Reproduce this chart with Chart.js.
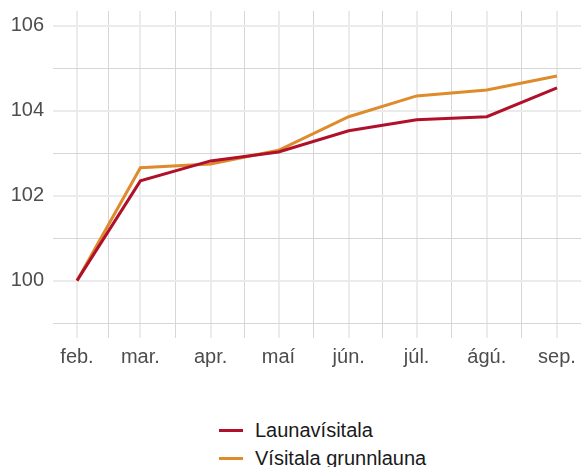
<!DOCTYPE html>
<html lang="is">
<head>
<meta charset="utf-8">
<script src="https://cdn.jsdelivr.net/npm/chart.js@4/dist/chart.umd.min.js"></script>
<style>
  html, body { margin:0; padding:0; background:#fff; }
  #wrap { position:relative; width:581px; height:467px; overflow:hidden; }
  #chart { position:absolute; left:0; top:0; }
  #legend { position:absolute; left:219px; top:416px; font-family:"Liberation Sans", Arial, sans-serif; font-size:20px; color:#1a1a1a; }
  #legend .item { display:flex; align-items:center; height:28px; }
  #legend .swatch { width:24px; height:3px; margin-right:12px; }
</style>
</head>
<body>
<div id="wrap">
  <canvas id="chart" width="581" height="380"></canvas>
  <div id="legend"></div>
</div>
<script>
// Vísitölur, feb. = 100
const MONTHS = ['feb.', 'mar.', 'apr.', 'maí', 'jún.', 'júl.', 'ágú.', 'sep.'];
const MONTH_DAYS = [31, 59, 90, 120, 151, 181, 212, 243]; // dagur ársins, 1. hvers mánaðar
const LAUNAVISITALA = [100, 102.35, 102.82, 103.03, 103.53, 103.79, 103.86, 104.54];
const GRUNNLAUN = [100, 102.66, 102.75, 103.07, 103.86, 104.35, 104.49, 104.82];
const Y_TICKS = [99, 100, 101, 102, 103, 104, 105, 106];

const RED = '#b0102a';
const ORANGE = '#de8b2c';
const FONT = '"Liberation Sans", Arial, sans-serif';

const toPoints = vals => vals.map((v, i) => ({x: MONTH_DAYS[i], y: v}));

// x-ás: mánaðamót + miðpunktar á milli (minni gridlínur)
const xTicks = [];
MONTH_DAYS.forEach((d, i) => {
  xTicks.push({value: d, major: true, label: MONTHS[i]});
  if (i < MONTH_DAYS.length - 1) xTicks.push({value: (d + MONTH_DAYS[i + 1]) / 2, major: false, label: ''});
});

const datasets = [
  {label: 'Launavísitala', data: toPoints(LAUNAVISITALA), borderColor: RED, backgroundColor: RED},
  {label: 'Vísitala grunnlauna', data: toPoints(GRUNNLAUN), borderColor: ORANGE, backgroundColor: ORANGE}
].map(ds => Object.assign(ds, {borderWidth: 3, pointRadius: 0, tension: 0, fill: false}));

const isMajorX = ctx => ctx.tick && xTicks.find(t => t.value === ctx.tick.value)?.major;
const isMajorY = ctx => ctx.tick && ctx.tick.value % 2 === 0;

new Chart(document.getElementById('chart'), {
  type: 'line',
  data: {datasets},
  options: {
    responsive: false,
    animation: false,
    layout: {padding: {top: 11, right: 0, left: 0, bottom: 0}},
    plugins: {legend: {display: false}, tooltip: {enabled: false}},
    scales: {
      x: {
        type: 'linear',
        min: 20.4,
        max: 253.6,
        border: {display: false},
        afterBuildTicks: s => { s.ticks = xTicks.map(t => ({value: t.value})); },
        afterFit: s => { s.height = 42; s.paddingLeft = 0; s.paddingRight = 0; },
        grid: {
          drawTicks: false,
          color: ctx => isMajorX(ctx) ? '#ebebeb' : '#d6d6d6',
          lineWidth: ctx => isMajorX(ctx) ? 2 : 1
        },
        ticks: {
          autoSkip: false,
          maxRotation: 0,
          padding: 7,
          color: '#4d4d4d',
          font: {family: FONT, size: 20},
          callback: v => (xTicks.find(t => t.value === v) || {}).label || ''
        }
      },
      y: {
        min: 98.65,
        max: 106.35,
        border: {display: false},
        afterBuildTicks: s => { s.ticks = Y_TICKS.map(v => ({value: v})); },
        afterFit: s => { s.width = 53; s.paddingTop = 0; s.paddingBottom = 0; },
        grid: {
          drawTicks: false,
          color: ctx => isMajorY(ctx) ? '#ebebeb' : '#d6d6d6',
          lineWidth: ctx => isMajorY(ctx) ? 2 : 1
        },
        ticks: {
          padding: 9,
          color: '#4d4d4d',
          font: {family: FONT, size: 20},
          callback: v => v % 2 === 0 ? String(v) : ''
        }
      }
    }
  }
});

// Skýringar undir myndinni, hver í sinni línu
document.getElementById('legend').innerHTML = datasets.map(ds =>
  `<div class="item"><span class="swatch" style="background:${ds.borderColor}"></span>${ds.label}</div>`
).join('');
</script>
</body>
</html>
